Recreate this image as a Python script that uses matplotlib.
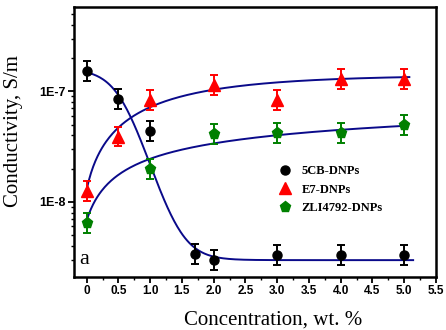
import matplotlib
matplotlib.use("Agg")
import numpy as np
import matplotlib.pyplot as plt
from matplotlib.ticker import FixedLocator, NullFormatter, LogLocator, MultipleLocator

# ---- data ----
conc_5cb = [0, 0.5, 1.0, 1.7, 2.0, 3.0, 4.0, 5.0]
cond_5cb = [1.52e-7, 8.6e-8, 4.4e-8, 3.35e-9, 2.96e-9, 3.3e-9, 3.3e-9, 3.3e-9]
conc_e7 = [0, 0.5, 1.0, 2.0, 3.0, 4.0, 5.0]
cond_e7 = [1.26e-8, 3.9e-8, 8.4e-8, 1.15e-7, 8.4e-8, 1.3e-7, 1.3e-7]
conc_zli = [0, 1.0, 2.0, 3.0, 4.0, 5.0]
cond_zli = [6.4e-9, 2.0e-8, 4.1e-8, 4.2e-8, 4.2e-8, 5.0e-8]
err_factor = 1.23  # multiplicative error-bar half-length (log scale)

# fitted curves: parameters
fit5cb_A1, fit5cb_A2, fit5cb_x0, fit5cb_dx, fit5cb_xmax = 1.6e-7, 2.97e-9, 0.56, 0.22, 5.14   # Boltzmann
fite7_A, fite7_B, fite7_t, fite7_xmax = 1.4e-7, 1.27e-7, 1.6, 5.08                             # exp. rise
fitzli_a, fitzli_b, fitzli_c, fitzli_xmax = 6.8e-9, 2.0e-8, 0.7, 5.0                           # log rise

labels = ["5CB-DNPs", "E7-DNPs", "ZLI4792-DNPs"]
x_ticks = [0, 0.5, 1.0, 1.5, 2.0, 2.5, 3.0, 3.5, 4.0, 4.5, 5.0, 5.5]
x_tick_labels = ["0", "0.5", "1.0", "1.5", "2.0", "2.5", "3.0", "3.5", "4.0", "4.5", "5.0", "5.5"]
y_ticks = [1e-8, 1e-7]
y_tick_labels = ["1E-8", "1E-7"]

# ---- figure ----
fig = plt.figure(figsize=(4.46, 3.30), dpi=100)
ax = fig.add_axes([74/446, 1-277/330, (436-74)/446, (277-7)/330])
ax.set_yscale("log")

navy = "#0a0a8a"
xs = np.linspace(0, fit5cb_xmax, 300)
ax.plot(xs, fit5cb_A2 + (fit5cb_A1 - fit5cb_A2) / (1 + np.exp((xs - fit5cb_x0) / fit5cb_dx)),
        color=navy, lw=1.4, zorder=2)
xs = np.linspace(0, fite7_xmax, 300)
ax.plot(xs, fite7_A - fite7_B * np.exp(-xs / fite7_t), color=navy, lw=1.4, zorder=2)
xs = np.linspace(0, fitzli_xmax, 300)
ax.plot(xs, fitzli_a + fitzli_b * np.log(1 + xs / fitzli_c), color=navy, lw=1.4, zorder=2)

def yerr(vals):
    lo = [v - v / err_factor for v in vals]
    hi = [v * err_factor - v for v in vals]
    return [lo, hi]

series = [
    (conc_5cb, cond_5cb, "o", "black", 6.5, labels[0]),
    (conc_e7, cond_e7, "^", "red", 8, labels[1]),
    (conc_zli, cond_zli, "p", "#008000", 8, labels[2]),
]
handles = []
for xv, yv, mk, col, ms, lab in series:
    ax.errorbar(xv, yv, yerr=yerr(yv), fmt="none", ecolor=col, elinewidth=1.4,
                capsize=3.0, capthick=1.4, zorder=3)
    h, = ax.plot(xv, yv, linestyle="none", marker=mk, color=col, ms=ms,
                 markeredgecolor=col, zorder=4, label=lab)
    handles.append(h)

ax.set_xlim(-0.2, 5.5)
ax.set_ylim(2.09e-9, 5.8e-7)

ax.xaxis.set_major_locator(FixedLocator(x_ticks))
ax.set_xticklabels(x_tick_labels)
ax.xaxis.set_minor_locator(MultipleLocator(0.25))
ax.yaxis.set_major_locator(FixedLocator(y_ticks))
ax.set_yticklabels(y_tick_labels)
ax.yaxis.set_minor_locator(LogLocator(base=10, subs=range(2, 10)))
ax.yaxis.set_minor_formatter(NullFormatter())

for lab in ax.get_xticklabels():
    lab.set_fontfamily("Liberation Sans")
    lab.set_fontweight("bold")
    lab.set_fontsize(8.5)
for lab in ax.get_yticklabels():
    lab.set_fontfamily("Liberation Sans")
    lab.set_fontweight("bold")
    lab.set_fontsize(9)

ax.tick_params(axis="both", which="major", direction="out", length=4, width=1.3,
               top=False, right=False, pad=2)
ax.tick_params(axis="both", which="minor", direction="out", length=2.5, width=1.0,
               top=False, right=False)
for sp in ax.spines.values():
    sp.set_linewidth(1.8)

ax.set_xlabel("Concentration, wt. %", family="Liberation Serif", fontsize=15)
ax.set_ylabel("Conductivity, S/m", family="Liberation Serif", fontsize=15)
ax.xaxis.set_label_coords(0.55, -0.125)
ax.yaxis.set_label_coords(-0.14, 0.54)

ax.text(0.015, 0.03, "a", transform=ax.transAxes, family="Liberation Serif",
        fontsize=16, ha="left", va="bottom")

leg = ax.legend(handles=handles, loc="upper left", bbox_to_anchor=(0.535, 0.455),
                frameon=False, handlelength=1.0, handletextpad=0.8, labelspacing=0.5,
                prop={"family": "Liberation Serif", "weight": "bold", "size": 9})

fig.savefig("out.png", dpi=100)
